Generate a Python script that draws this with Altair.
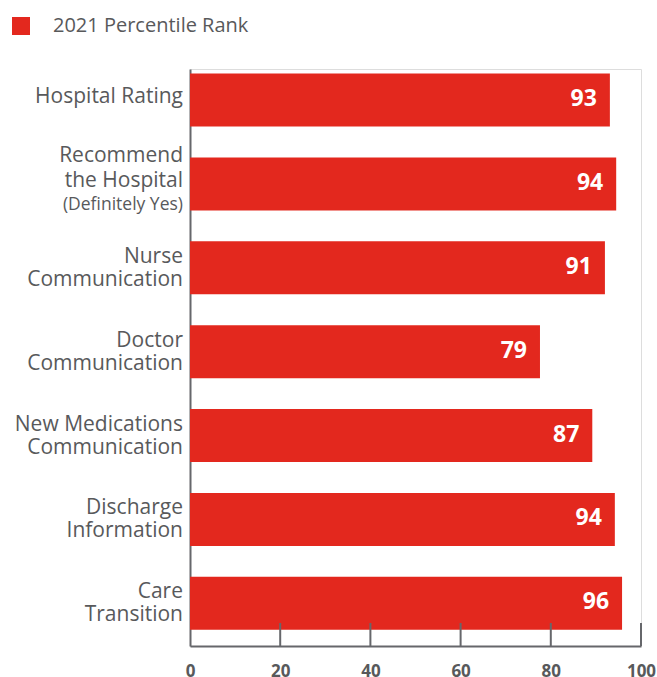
import altair as alt
import pandas as pd

categories = ["Hospital Rating", "Recommend the Hospital", "Nurse Communication",
              "Doctor Communication", "New Medications Communication",
              "Discharge Information", "Care Transition"]
# bar lengths as drawn in the picture
bar_lengths = [93.1, 94.5, 92.0, 77.6, 89.2, 94.2, 95.8]
# printed value labels
value_labels = [93, 94, 91, 79, 87, 94, 96]
label_lines = ["Hospital Rating", "Recommend|the Hospital", "Nurse|Communication",
               "Doctor|Communication", "New Medications|Communication",
               "Discharge|Information", "Care|Transition"]
sub_labels = ["", "(Definitely Yes)", "", "", "", "", ""]
series_name = "2021 Percentile Rank"
x_ticks = [0, 20, 40, 60, 80, 100]
inner_ticks = [20, 40, 60, 80, 100]

RED = "#E3281E"
GRAY = "#58595B"
AXIS = "#66676B"
FONT = "Open Sans"

df = pd.DataFrame({
    "category": categories,
    "length": bar_lengths,
    "value": value_labels,
    "label": label_lines,
    "sub": sub_labels,
    "series": [series_name] * len(categories),
})
df["kind"] = ["single" if "|" not in s else ("rec" if sub else "double")
              for s, sub in zip(label_lines, sub_labels)]
ticks_df = pd.DataFrame({"t": inner_ticks})

W, H = 451, 577

yscale = alt.Scale(domain=categories, paddingInner=0.368, paddingOuter=0.124, align=0.22)
xscale = alt.Scale(domain=[0, 100], nice=False)
Y = alt.Y("category:N", scale=yscale, sort=categories)

base = alt.Chart(df)

bars = base.mark_bar(color=RED).encode(
    x=alt.X("length:Q", scale=xscale,
            axis=alt.Axis(values=x_ticks, title=None, grid=False, ticks=False,
                          domainColor=AXIS, domainWidth=2, labelFont=FONT,
                          labelFontSize=17, labelFontWeight="bold", labelColor=GRAY,
                          labelPadding=17, labelFlush=False)),
    y=alt.Y("category:N", scale=yscale, sort=categories,
            axis=alt.Axis(title=None, labels=False, ticks=False, domainColor=AXIS,
                          domainWidth=2, grid=False)),
    color=alt.Color("series:N", scale=alt.Scale(range=[RED]),
                    legend=alt.Legend(title=None, orient="none", legendX=-179, legendY=-53,
                                      symbolType="square", symbolSize=324,
                                      symbolStrokeWidth=0, labelFont=FONT,
                                      labelFontSize=20, labelColor=GRAY, labelOffset=22,
                                      labelLimit=400, padding=0)),
)

value_text = base.mark_text(align="right", baseline="middle", dx=-13, dy=-1, color="white",
                            font=FONT, fontSize=23, fontWeight="bold").encode(
    x=alt.X("length:Q", scale=xscale),
    y=Y,
    text=alt.Text("value:Q"),
)

def label_layer(kind, dy, lh):
    return base.transform_filter(alt.datum.kind == kind).transform_calculate(
        lines="split(datum.label, '|')"
    ).mark_text(align="right", baseline="middle", color=GRAY, font=FONT, fontSize=21,
                lineHeight=lh, dy=dy).encode(
        x=alt.value(-7),
        y=Y,
        text="lines:N",
    )

single_labels = label_layer("single", -3, 23)
double_labels = label_layer("double", -11, 23)
rec_labels = label_layer("rec", -28, 25)

sub_text = base.transform_filter(alt.datum.sub != "").mark_text(
    align="right", baseline="middle", color=GRAY, font=FONT, fontSize=17.5, dy=21).encode(
    x=alt.value(-7),
    y=Y,
    text="sub:N",
)

tick_rules = alt.Chart(ticks_df).mark_rule(color=AXIS, strokeWidth=2).encode(
    x=alt.X("t:Q", scale=xscale),
    y=alt.value(H - 23),
    y2=alt.value(H),
)

chart = alt.layer(bars, value_text, single_labels, double_labels, rec_labels, sub_text,
                  tick_rules).properties(
    width=W, height=H,
    autosize=alt.AutoSizeParams(type="none"),
    padding={"left": 190, "top": 69, "right": 16, "bottom": 31},
).configure_view(stroke=None).configure(background="white")

chart.save("out.html", embed_options={"renderer": "svg", "actions": False})
